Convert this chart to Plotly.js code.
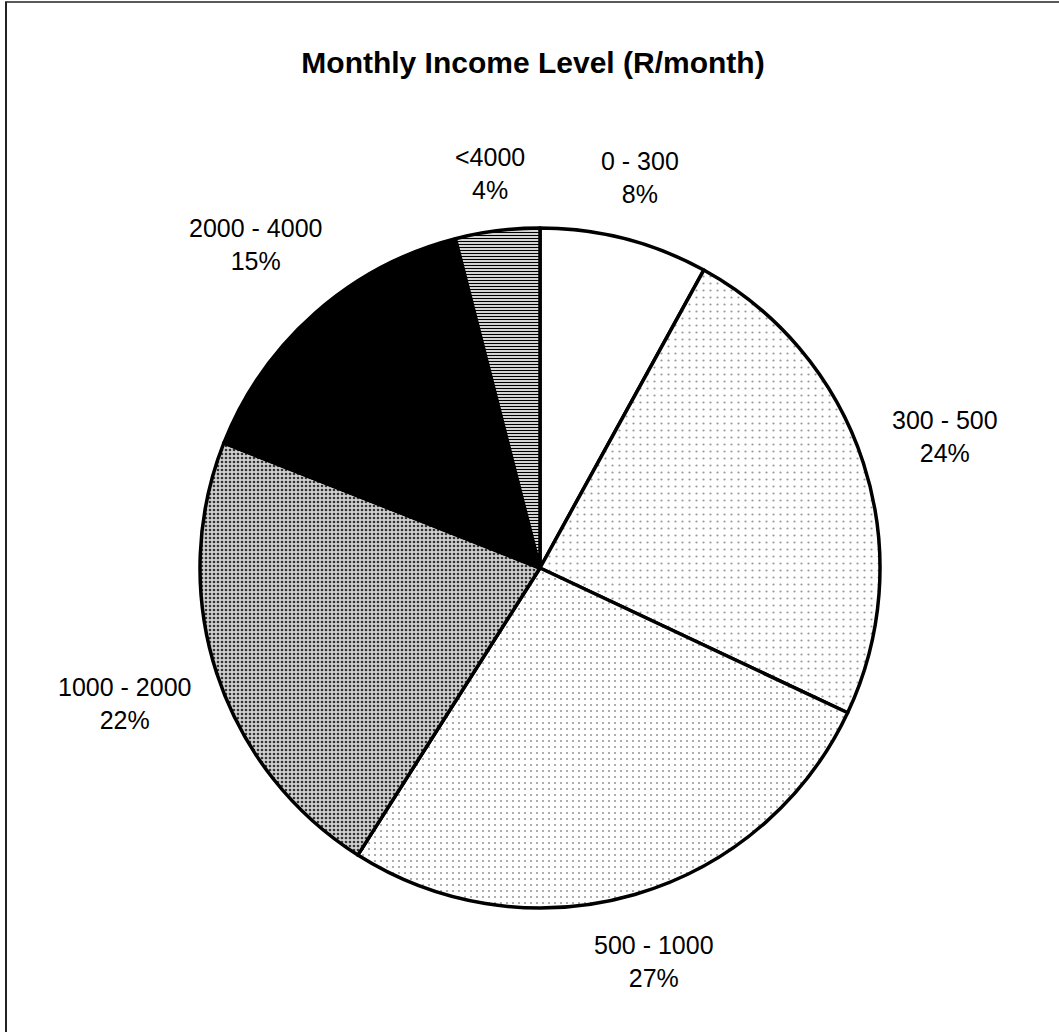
<!DOCTYPE html>
<html>
<head>
<meta charset="utf-8">
<script src="https://cdn.plot.ly/plotly-3.0.1.min.js"></script>
<style>
  body { margin: 0; background: #fff; }
</style>
</head>
<body>
<div id="graph"></div>
<script>
// Data
var income_labels = ['0 - 300', '300 - 500', '500 - 1000', '1000 - 2000', '2000 - 4000', '<4000'];
var income_share = [8, 24, 27, 22, 15, 4];

// Slice fills (scan look: white, light speckle, dark speckle, black, hatched)
var fill_shape = ['', '.', '.', '.', '', '-'];
var fill_fg = ['#000', '#9a9a9a', '#9a9a9a', '#333333', '#000', '#000'];
var fill_bg = ['#fff', '#fff', '#fff', '#d0d0d0', '#000', '#fff'];
var fill_size = [8, 7, 6, 4, 8, 3];
var fill_solid = [0.2, 0.08, 0.1, 0.35, 0.2, 0.45];

// Page geometry
var W = 1059, H = 1032;
var margin = {l: 200, r: 179, t: 228, b: 124};
var plotW = W - margin.l - margin.r;   // 680
var plotH = H - margin.t - margin.b;   // 680
var R = Math.min(plotW, plotH) / 2;
var font_family = 'Arial, "Liberation Sans", sans-serif';
var label_size = 25;

////////////////// labels around the pie //////////////////
var total = income_share.reduce(function(a, b) { return a + b; }, 0);
var annotations = [];
var cum = 0;
for (var i = 0; i < income_share.length; i++) {
  var mid = (cum + income_share[i] / 2) / total * 2 * Math.PI;
  cum += income_share[i];
  var dx = Math.sin(mid), dy = Math.cos(mid);
  var hw = income_labels[i].length * 0.49 * label_size / 2;
  var hh = 30;
  var d = 1.07 * R + hw * Math.abs(dx) + hh * Math.abs(dy);
  annotations.push({
    xref: 'paper', yref: 'paper',
    x: 0.5 + d * dx / plotW,
    y: 0.5 + d * dy / plotH,
    xanchor: 'center', yanchor: 'middle',
    text: income_labels[i] + '<br>' + Math.round(income_share[i] / total * 100) + '%',
    showarrow: false,
    font: {family: font_family, size: label_size, color: '#000'}
  });
}

var trace_pie = {
  type: 'pie',
  labels: income_labels,
  values: income_share,
  sort: false,
  direction: 'clockwise',
  rotation: 0,
  textinfo: 'none',
  hoverinfo: 'label+percent',
  showlegend: false,
  domain: {x: [0, 1], y: [0, 1]},
  marker: {
    colors: fill_bg,
    line: {color: '#000', width: 3.5},
    pattern: {
      shape: fill_shape,
      fgcolor: fill_fg,
      bgcolor: fill_bg,
      size: fill_size,
      solidity: fill_solid
    }
  }
};

// frame lines (top and left edge of the scanned box)
var shapes = [
  {type: 'line', xref: 'paper', yref: 'paper',
   x0: (5 - margin.l) / plotW, x1: (W - margin.l) / plotW,
   y0: (H - margin.b - 2) / plotH, y1: (H - margin.b - 2) / plotH,
   line: {color: '#222', width: 1.5}},
  {type: 'line', xref: 'paper', yref: 'paper',
   x0: (6 - margin.l) / plotW, x1: (6 - margin.l) / plotW,
   y0: (H - margin.b - 2) / plotH, y1: -margin.b / plotH,
   line: {color: '#222', width: 2}}
];

var layout_graph = {
  width: W,
  height: H,
  margin: margin,
  autosize: false,
  paper_bgcolor: 'white',
  plot_bgcolor: 'white',
  title: {
    text: 'Monthly Income Level (R/month)',
    font: {family: font_family, size: 30, color: '#000', weight: 'bold'},
    x: 533 / W, xanchor: 'center',
    y: 1 - 62 / H, yanchor: 'middle'
  },
  annotations: annotations,
  shapes: shapes
};

Plotly.newPlot('graph', [trace_pie], layout_graph, {displayModeBar: false});
</script>
</body>
</html>
